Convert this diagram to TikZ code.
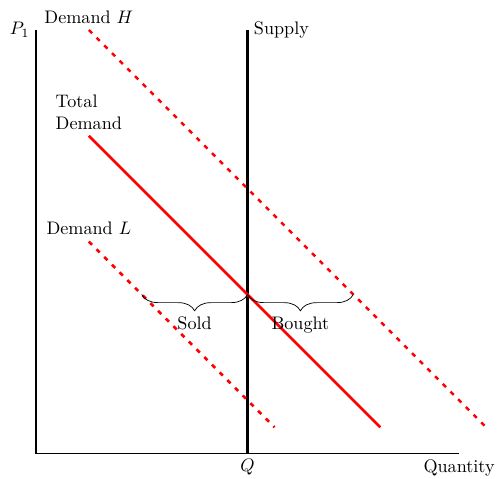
\documentclass[tikz,border=0pt]{standalone}
\usetikzlibrary{decorations.pathreplacing}
\tikzset{
  axis/.style     = {semithick},
  supply/.style   = {ultra thick},
  demand/.style   = {line width=1.4pt, red},
  shifted/.style  = {line width=1.4pt, red, dash pattern=on 2.5pt off 3.5pt},
  bracket/.style  = {decorate, decoration={brace, mirror, amplitude=9pt}},
}

\begin{document}
\begin{tikzpicture}[x=0.82cm, y=0.82cm]
      \useasboundingbox (-0.85,-0.59) rectangle (10.92,10.71);

      \coordinate (o)   at (0, 0);
      \coordinate (ytop) at (0, 10);
      \coordinate (xend) at (10, 0);
      \coordinate (q)   at (5, 0);
      \coordinate (qtop) at (5, 10);
      \coordinate (eq)  at (5, 3.75);

      \coordinate (h1)  at (1.25, 10);
      \coordinate (h2)  at (10.64, 0.61);
      \coordinate (t1)  at (1.25, 7.5);
      \coordinate (t2)  at (8.14, 0.61);
      \coordinate (l1)  at (1.25, 5);
      \coordinate (l2)  at (5.64, 0.61);

      \coordinate (sold)   at (2.5, 3.75);
      \coordinate (bought) at (7.5, 3.75);

      % axes and supply
      \draw[axis]   (ytop) -- (o) -- (xend);
      \draw[supply] (q) -- (qtop);

      % demand curves
      \draw[shifted] (h1) -- (h2);
      \draw[demand]  (t1) -- (t2);
      \draw[shifted] (l1) -- (l2);

      % braces
      \draw[bracket] (sold) -- node[below=9pt] (soldlbl) {Sold} (eq);
      \draw[bracket] (eq) -- node[below=9pt] (boughtlbl) {Bought} (bought);

      % labels
      \node[left]  (p1)    at (ytop) {$P_1$};
      \node[below] (qlbl)  at (q)    {$Q$};
      \node[below] (xlbl)  at (xend) {Quantity};
      \node[right] (slbl)  at (qtop) {Supply};
      \node[above] (hlbl)  at (h1)   {Demand $H$};
      \node[above, align=left] (tlbl) at (t1) {Total\\Demand};
      \node[above] (llbl)  at (l1)   {Demand $L$};
    \end{tikzpicture}
\end{document}
